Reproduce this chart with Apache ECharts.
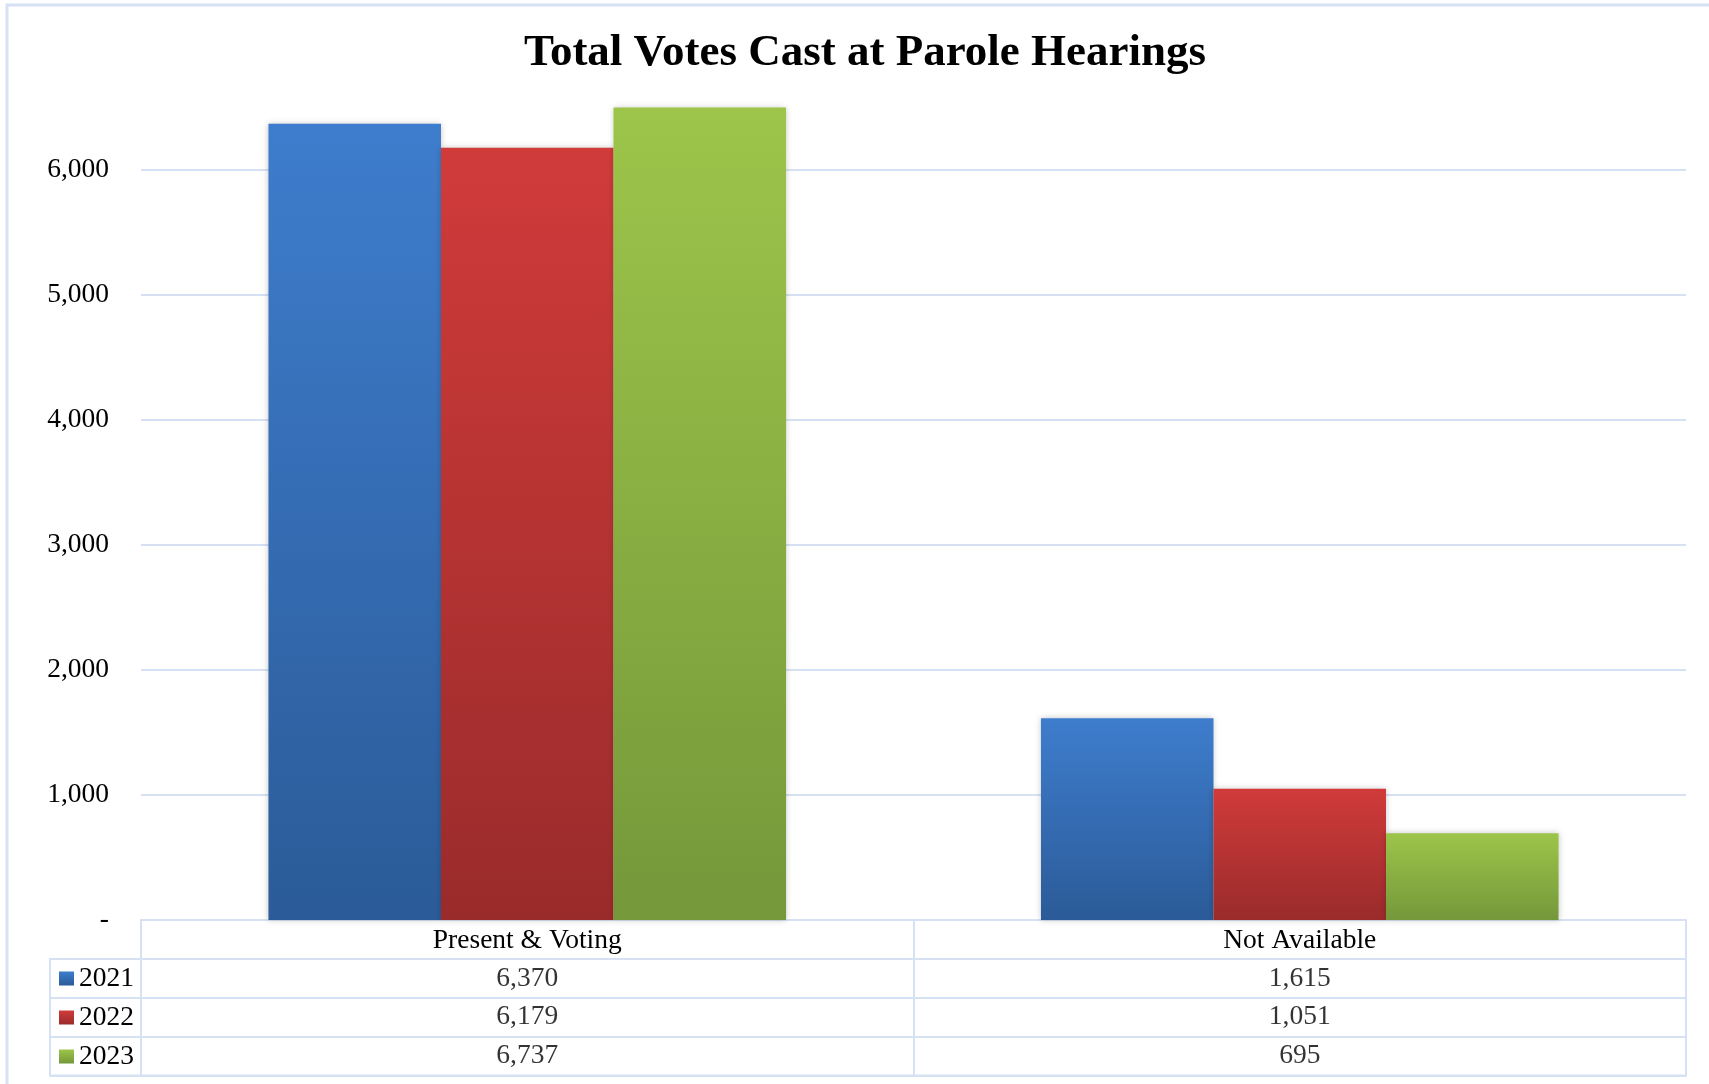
<!DOCTYPE html>
<html>
<head>
<meta charset="utf-8">
<script src="https://cdn.jsdelivr.net/npm/echarts@6/dist/echarts.min.js"></script>
<style>
html,body{margin:0;padding:0;background:#fff;}
#chart{width:1709px;height:1084px;}
</style>
</head>
<body>
<div id="chart"></div>
<script>
const titleText = 'Total Votes Cast at Parole Hearings';
const categories = ['Present & Voting', 'Not Available'];
const years = ['2021', '2022', '2023'];
const values2021 = [6370, 1615];
const values2022 = [6179, 1051];
const values2023 = [6737, 695];
const yTicks = [0, 1000, 2000, 3000, 4000, 5000, 6000];
const yMax = 6500;

const seriesValues = [values2021, values2022, values2023];
const gradients = [
  ['#3E7DCD', '#2B5B98'],
  ['#D03B3A', '#9A2B2B'],
  ['#9DC54A', '#74983A']
];
const lineCol = '#D6E2F3';
const serif = '"Liberation Serif", "Times New Roman", serif';
const fs = 27.5;
const fmt = v => v === 0 ? '-' : Number(v).toLocaleString('en-US');

const chart = echarts.init(document.getElementById('chart'));

const barSeries = years.map((y, i) => ({
  name: y,
  type: 'bar',
  xAxisIndex: 0,
  yAxisIndex: 0,
  data: seriesValues[i],
  barGap: '0%',
  barCategoryGap: '33%',
  clip: true,
  z: 3,
  itemStyle: {
    color: new echarts.graphic.LinearGradient(0, 0, 0, 1, [
      {offset: 0, color: gradients[i][0]},
      {offset: 1, color: gradients[i][1]}
    ]),
    shadowBlur: 6,
    shadowColor: 'rgba(0,0,0,0.22)'
  }
}));

const tableData = [];
years.forEach((y, r) => {
  categories.forEach((c, ci) => {
    tableData.push([ci, r, seriesValues[r][ci]]);
  });
});

const option = {
  backgroundColor: '#fff',
  animation: false,
  title: {
    text: titleText,
    left: 519,
    top: 26,
    textStyle: {fontFamily: serif, fontWeight: 'bold', fontSize: 45, color: '#000'}
  },
  legend: {
    data: years,
    orient: 'vertical',
    left: 59,
    top: 959,
    padding: 0,
    itemGap: 0,
    itemWidth: 15,
    itemHeight: 14,
    icon: 'rect',
    selectedMode: false,
    textStyle: {fontFamily: serif, fontSize: fs, lineHeight: 39, color: '#000'}
  },
  graphic: [{
    type: 'rect',
    shape: {x: 7, y: 5, width: 1720, height: 1100},
    style: {fill: 'none', stroke: lineCol, lineWidth: 3},
    silent: true,
    z: -10
  }],
  grid: [
    {left: 141, right: 23, top: 107.5, height: 812.5},
    {left: 141, right: 23, top: 959, height: 116.5, show: true, borderColor: lineCol, borderWidth: 2},
    {left: 50, width: 91, top: 959, height: 116.5, show: true, borderColor: lineCol, borderWidth: 2}
  ],
  xAxis: [
    {
      type: 'category', gridIndex: 0, data: categories,
      axisLine: {show: true, lineStyle: {color: lineCol, width: 2}},
      axisTick: {show: true, length: 39, lineStyle: {color: lineCol, width: 2}},
      axisLabel: {margin: 7, fontFamily: serif, fontSize: fs, color: '#000'},
      splitLine: {show: false}
    },
    {
      type: 'category', gridIndex: 1, data: categories,
      axisLine: {show: false}, axisTick: {show: false}, axisLabel: {show: false},
      splitLine: {show: true, lineStyle: {color: lineCol, width: 2}}
    }
  ],
  yAxis: [
    {
      type: 'value', gridIndex: 0, min: 0, max: yMax, interval: 1000,
      axisLine: {show: false}, axisTick: {show: false},
      splitLine: {show: false},
      axisLabel: {
        margin: 32, fontFamily: serif, fontSize: fs, color: '#000',
        showMaxLabel: false,
        formatter: v => yTicks.indexOf(v) >= 0 ? fmt(v) : ''
      }
    },
    {
      type: 'category', gridIndex: 1, data: years, inverse: true,
      axisLine: {show: false},
      axisTick: {show: true, length: 91, interval: 0, lineStyle: {color: lineCol, width: 2}},
      axisLabel: {show: false},
      splitLine: {show: true, interval: 0, lineStyle: {color: lineCol, width: 2}}
    }
  ],
  series: [
    {
      name: 'gridlines',
      type: 'line',
      xAxisIndex: 0, yAxisIndex: 0,
      data: [],
      z: 1,
      markLine: {
        silent: true,
        z: 1,
        symbol: ['none', 'none'],
        label: {show: false},
        lineStyle: {color: lineCol, width: 2, type: 'solid'},
        data: yTicks.filter(v => v > 0).map(v => ({yAxis: v}))
      }
    },
    ...barSeries,
    {
      name: 'table',
      type: 'scatter',
      xAxisIndex: 1, yAxisIndex: 1,
      symbolSize: 1,
      itemStyle: {color: 'rgba(0,0,0,0)'},
      data: tableData,
      label: {
        show: true, position: 'inside',
        fontFamily: serif, fontSize: fs, color: '#000',
        formatter: p => fmt(p.value[2])
      }
    }
  ]
};
chart.setOption(option);
</script>
</body>
</html>
